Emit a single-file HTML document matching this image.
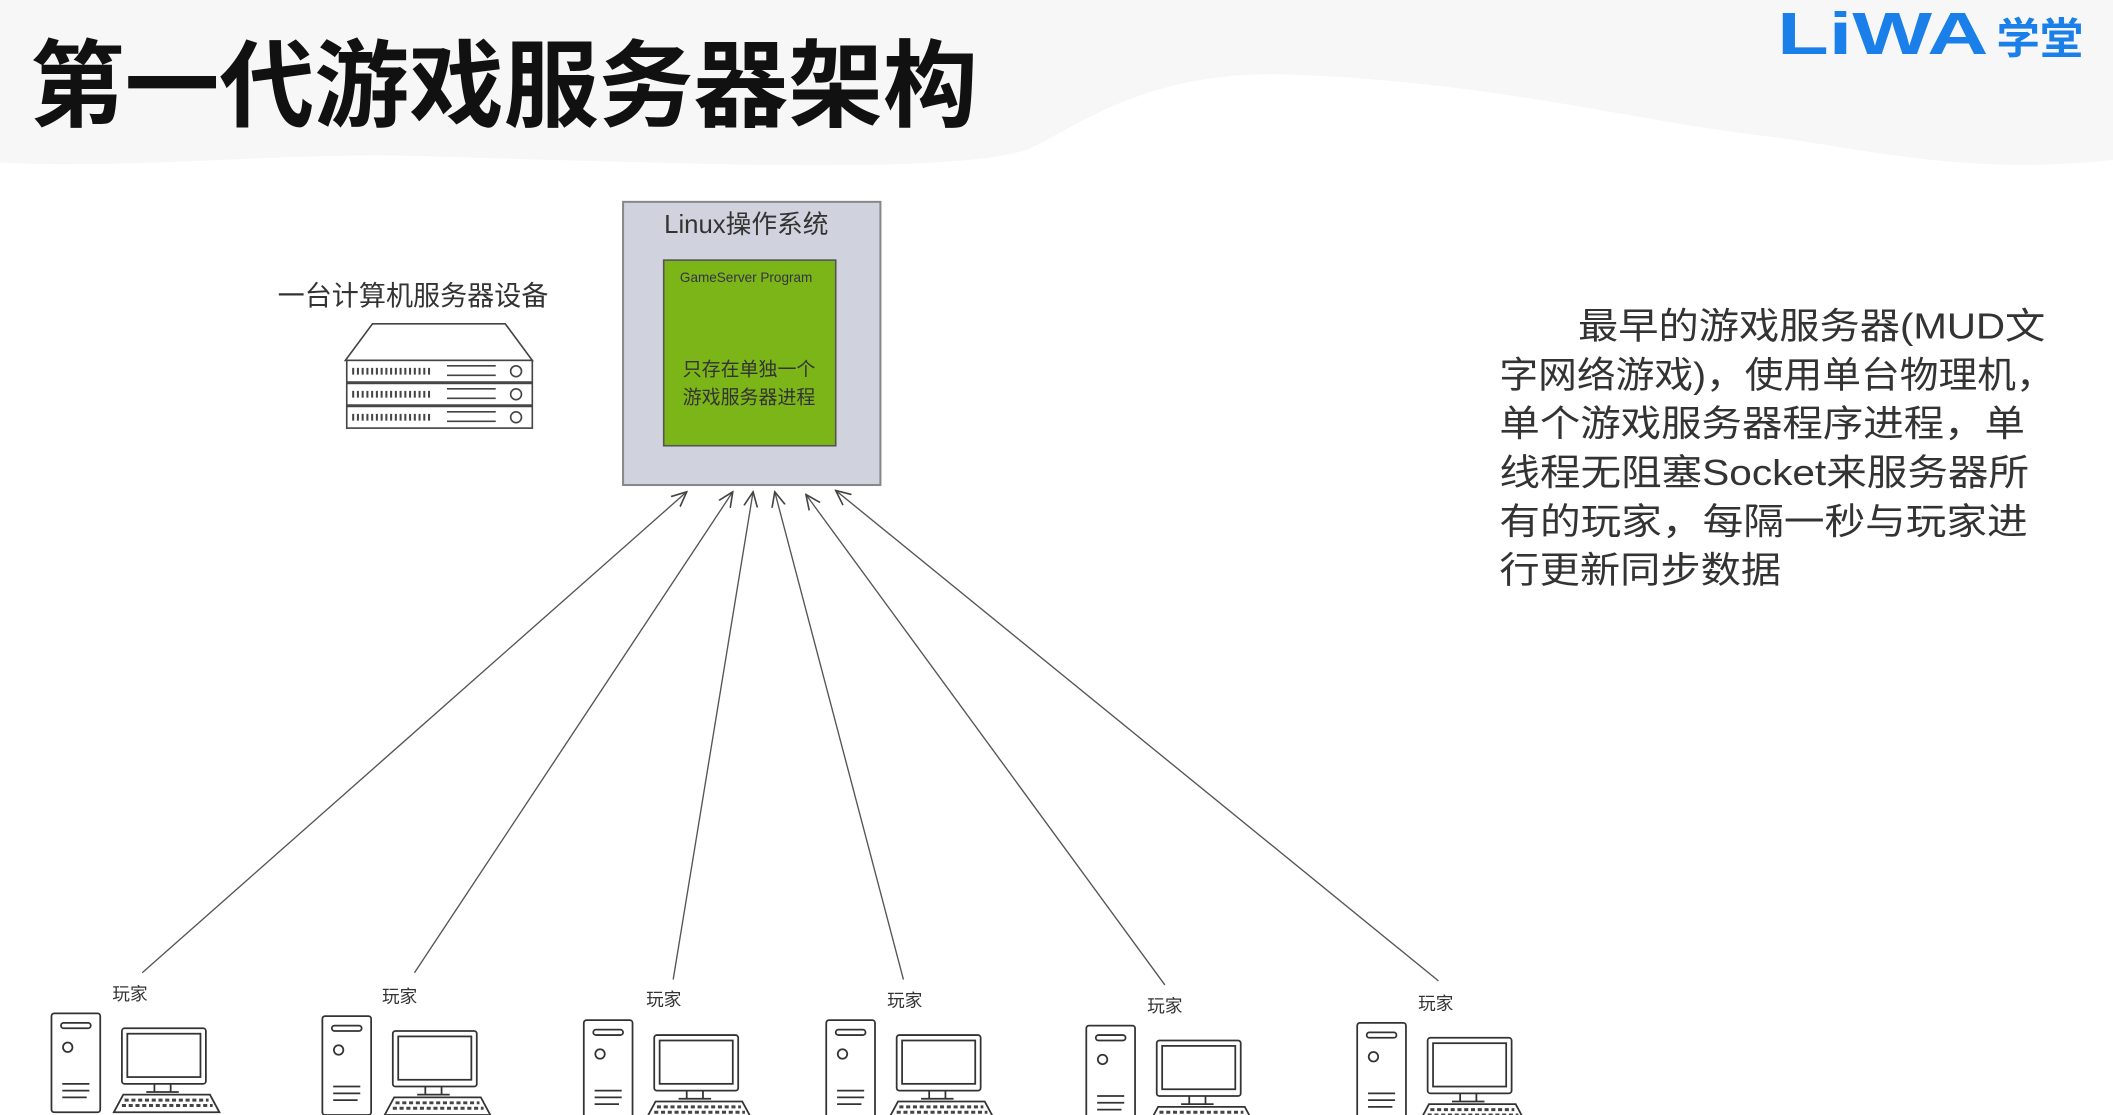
<!DOCTYPE html>
<html><head><meta charset="utf-8"><style>
html,body{margin:0;padding:0;background:#fff;}
svg{display:block;}
text{font-family:"Liberation Sans","Noto Sans CJK SC",sans-serif;}
</style></head><body>
<svg width="2113" height="1115" viewBox="0 0 1560 823" preserveAspectRatio="none" xmlns="http://www.w3.org/2000/svg">
<defs>
<g id="pc" fill="none" stroke="#333" stroke-width="1.3">
  <rect x="0" y="0" width="36" height="73" rx="2" fill="#fff"/>
  <rect x="7" y="7" width="22" height="4" rx="2"/>
  <circle cx="12" cy="25" r="3.5"/>
  <line x1="8" y1="52" x2="28" y2="52"/><line x1="8" y1="57" x2="28" y2="57"/><line x1="8" y1="62" x2="26" y2="62"/>
  <rect x="52" y="11" width="62" height="41" rx="2" fill="#fff"/>
  <rect x="56" y="15" width="54" height="32" fill="#fff"/>
  <line x1="76" y1="52" x2="76" y2="58"/><line x1="88" y1="52" x2="88" y2="58"/><line x1="70" y1="58" x2="94" y2="58"/>
  <path d="M53 60 L117 60 L124 73 L46 73 Z" fill="#fff"/>
  <g stroke="#444" stroke-width="2.2" stroke-dasharray="3 2">
    <line x1="54" y1="64" x2="116" y2="64"/><line x1="52" y1="68" x2="119" y2="68"/>
  </g>
</g>
<marker id="ah" viewBox="0 0 12 12" refX="11" refY="6" markerWidth="12" markerHeight="12" orient="auto" markerUnits="userSpaceOnUse">
  <path d="M0 1 L11 6 L0 11" fill="none" stroke="#444" stroke-width="1.2"/>
</marker>
</defs>
<!-- header bg -->
<path d="M0 0 L1560 0 L1560 118 C1450 130 1380 110 1300 100 C1200 88 1100 60 950 55 C850 52 800 90 760 110 C700 130 500 120 300 115 C200 113 100 125 0 120 Z" fill="#f7f7f7"/>
<text x="22" y="88" font-size="70" font-weight="bold" fill="#111">第一代游戏服务器架构</text>
<text x="1312" y="40" font-size="44" font-weight="bold" fill="#1a7fe8" textLength="156" lengthAdjust="spacingAndGlyphs">LiWA</text>
<text x="1474" y="40" font-size="32" font-weight="bold" fill="#1a7fe8">学堂</text>

<!-- server -->
<text x="205" y="225" font-size="20" fill="#333">一台计算机服务器设备</text>
<g fill="#fff" stroke="#444" stroke-width="1.2">
  <path d="M255 266 L275 239 L373 239 L393 266 Z"/>
  <rect x="256" y="266" width="137" height="16"/>
  <rect x="256" y="283" width="137" height="16"/>
  <rect x="256" y="300" width="137" height="16"/>
  <g stroke-dasharray="1.5 2" stroke-width="5">
    <line x1="260" y1="274" x2="318" y2="274"/><line x1="260" y1="291" x2="318" y2="291"/><line x1="260" y1="308" x2="318" y2="308"/>
  </g>
  <g fill="none"><line x1="330" y1="270" x2="366" y2="270"/><line x1="330" y1="277" x2="366" y2="277"/>
  <line x1="330" y1="287" x2="366" y2="287"/><line x1="330" y1="294" x2="366" y2="294"/>
  <line x1="330" y1="304" x2="366" y2="304"/><line x1="330" y1="311" x2="366" y2="311"/></g>
  <circle cx="381" cy="274" r="4"/><circle cx="381" cy="291" r="4"/><circle cx="381" cy="308" r="4"/>
</g>

<!-- linux box -->
<rect x="460" y="149" width="190" height="209" fill="#d0d3de" stroke="#888" stroke-width="1.5"/>
<text x="551" y="172" font-size="19" fill="#333" text-anchor="middle">Linux操作系统</text>
<rect x="490" y="192" width="127" height="137" fill="#7cb518" stroke="#555" stroke-width="1.2"/>
<text x="502" y="208" font-size="10" fill="#334">GameServer Program</text>
<text x="553" y="277" font-size="14" fill="#333" text-anchor="middle">只存在单独一个</text>
<text x="553" y="298" font-size="14" fill="#333" text-anchor="middle">游戏服务器进程</text>

<!-- arrows -->
<g stroke="#555" stroke-width="1" marker-end="url(#ah)">
  <line x1="105" y1="718" x2="507" y2="363"/>
  <line x1="306" y1="718" x2="541" y2="363"/>
  <line x1="497" y1="723" x2="556" y2="363"/>
  <line x1="667" y1="723" x2="572" y2="363"/>
  <line x1="860" y1="727" x2="595" y2="365"/>
  <line x1="1062" y1="724" x2="617" y2="362"/>
</g>

<!-- players -->
<g font-size="13" fill="#333" text-anchor="middle">
  <text x="96" y="738">玩家</text><text x="295" y="740">玩家</text><text x="490" y="742">玩家</text>
  <text x="668" y="743">玩家</text><text x="860" y="747">玩家</text><text x="1060" y="745">玩家</text>
</g>
<use href="#pc" x="38" y="748"/>
<use href="#pc" x="238" y="750"/>
<use href="#pc" x="431" y="753"/>
<use href="#pc" x="610" y="753"/>
<use href="#pc" x="802" y="757"/>
<use href="#pc" x="1002" y="755"/>

<!-- description -->
<g font-size="27" fill="#333">
  <text x="1165" y="250" textLength="345" lengthAdjust="spacingAndGlyphs">最早的游戏服务器(MUD文</text>
  <text x="1107" y="286" textLength="410" lengthAdjust="spacingAndGlyphs">字网络游戏)，使用单台物理机，</text>
  <text x="1107" y="322" textLength="388" lengthAdjust="spacingAndGlyphs">单个游戏服务器程序进程，单</text>
  <text x="1107" y="358" textLength="391" lengthAdjust="spacingAndGlyphs">线程无阻塞Socket来服务器所</text>
  <text x="1107" y="394" textLength="390" lengthAdjust="spacingAndGlyphs">有的玩家，每隔一秒与玩家进</text>
  <text x="1107" y="430" textLength="208" lengthAdjust="spacingAndGlyphs">行更新同步数据</text>
</g>
</svg>
</body></html>
